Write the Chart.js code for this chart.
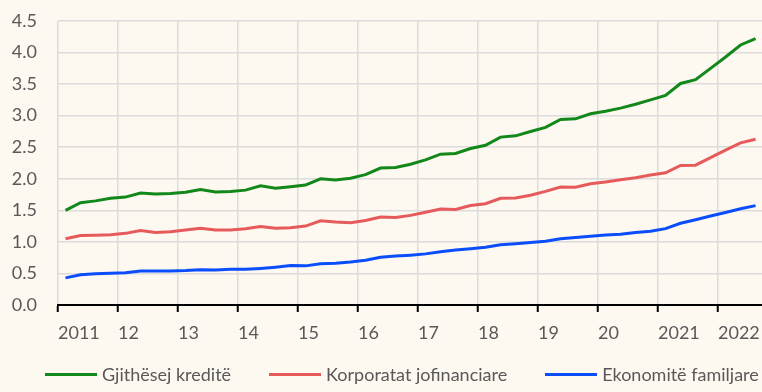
<!DOCTYPE html>
<html>
<head>
<meta charset="utf-8">
<script src="https://cdn.jsdelivr.net/npm/chart.js@4.4.0/dist/chart.umd.min.js"></script>
<style>
  html, body { margin: 0; padding: 0; background: #fdf8f0; }
  #wrap { position: relative; width: 762px; height: 392px; }
  #legend {
    position: absolute; left: 45px; top: 362px; height: 24px;
    display: flex; align-items: center; gap: 38px;
    font-family: Lato, sans-serif; font-size: 18px; color: #595959;
  }
  #legend .item { display: flex; align-items: center; white-space: nowrap; }
  #legend .line { display: inline-block; width: 52px; height: 3px; margin-right: 5px; }
</style>
</head>
<body>
<div id="wrap">
  <canvas id="myChart" width="762" height="392"></canvas>
  <div id="legend"></div>
</div>
<script>
// tremujoret 2011T1 - 2022T3, vlera ne %
const tickLabels = ['2011','12','13','14','15','16','17','18','19','20','2021','2022'];

const gjithesej = [1.50,1.62,1.65,1.69,1.71,1.775,1.76,1.765,1.785,1.83,
                   1.79,1.80,1.82,1.89,1.85,1.875,1.90,2.00,1.98,2.01,
                   2.065,2.17,2.18,2.23,2.30,2.39,2.40,2.48,2.53,2.66,
                   2.68,2.75,2.815,2.94,2.95,3.03,3.07,3.12,3.18,3.25,
                   3.32,3.51,3.57,3.75,3.93,4.12,4.22];
const korporatat = [1.05,1.10,1.105,1.115,1.135,1.18,1.15,1.16,1.19,1.215,
                    1.19,1.19,1.21,1.245,1.215,1.225,1.25,1.335,1.315,1.305,
                    1.34,1.395,1.385,1.42,1.47,1.52,1.515,1.575,1.605,1.69,
                    1.695,1.74,1.80,1.87,1.865,1.92,1.95,1.985,2.015,2.06,
                    2.095,2.21,2.215,2.335,2.455,2.57,2.625];
const familjet = [0.43,0.48,0.495,0.505,0.51,0.54,0.54,0.54,0.545,0.56,
                  0.555,0.565,0.565,0.58,0.60,0.625,0.62,0.655,0.66,0.68,
                  0.71,0.755,0.775,0.79,0.81,0.845,0.87,0.89,0.915,0.955,
                  0.97,0.99,1.01,1.05,1.07,1.09,1.11,1.12,1.15,1.17,
                  1.21,1.295,1.35,1.41,1.465,1.525,1.575];

// cdo tremujor ne mes te intervalit te vet
function toPoints(arr){
  return arr.map((v, i) => ({x: i + 0.5, y: v}));
}

const bgPlugin = {
  id: 'bg',
  beforeDraw(chart){
    const c = chart.ctx;
    c.save();
    c.fillStyle = '#fdf8f0';
    c.fillRect(0, 0, chart.width, chart.height);
    c.restore();
  }
};

const font = { family: 'Lato', size: 18 };

const config = {
  type: 'line',
  data: {
    datasets: [
      { label: 'Gjithësej kreditë', data: toPoints(gjithesej), borderColor: '#12871a', backgroundColor: '#12871a' },
      { label: 'Korporatat jofinanciare', data: toPoints(korporatat), borderColor: '#e65a5c', backgroundColor: '#e65a5c' },
      { label: 'Ekonomitë familjare', data: toPoints(familjet), borderColor: '#0a4dfb', backgroundColor: '#0a4dfb' }
    ]
  },
  options: {
    responsive: false,
    animation: false,
    layout: { padding: { top: 21, left: 0, right: 0, bottom: 0 } },
    elements: {
      line: { borderWidth: 3, tension: 0 },
      point: { radius: 0 }
    },
    plugins: {
      tooltip: { enabled: false },
      legend: { display: false }
    },
    scales: {
      x: {
        type: 'linear',
        min: 0,
        max: 46.93,
        afterBuildTicks: s => { s.ticks = tickLabels.map((t, i) => ({ value: i * 4 })); },
        afterFit: s => { s.height = 87; s.paddingLeft = 0; s.paddingRight = 0; },
        grid: { color: '#dcdcdc', lineWidth: 1.5, tickColor: '#000', tickWidth: 2, tickLength: 7 },
        border: { color: '#000', width: 2 },
        ticks: {
          align: 'start',
          maxRotation: 0,
          autoSkip: false,
          padding: 10,
          color: '#595959',
          font: font,
          callback: v => tickLabels[Math.round(v / 4)]
        }
      },
      y: {
        min: 0,
        max: 4.5,
        afterFit: s => { s.width = 58; s.paddingTop = 0; s.paddingBottom = 0; },
        grid: { color: '#dcdcdc', lineWidth: 1.5, drawTicks: false },
        border: { display: false },
        ticks: {
          stepSize: 0.5,
          padding: 21,
          color: '#595959',
          font: font,
          callback: v => v.toFixed(1)
        }
      }
    }
  },
  plugins: [bgPlugin]
};

const ctx = document.getElementById('myChart').getContext('2d');
const myChart = new Chart(ctx, config);

// legjenda ne HTML poshte grafikut
const legend = document.getElementById('legend');
myChart.data.datasets.forEach(ds => {
  const item = document.createElement('span');
  item.className = 'item';
  const line = document.createElement('span');
  line.className = 'line';
  line.style.background = ds.borderColor;
  const text = document.createElement('span');
  text.textContent = ds.label;
  item.appendChild(line);
  item.appendChild(text);
  legend.appendChild(item);
});
</script>
</body>
</html>
